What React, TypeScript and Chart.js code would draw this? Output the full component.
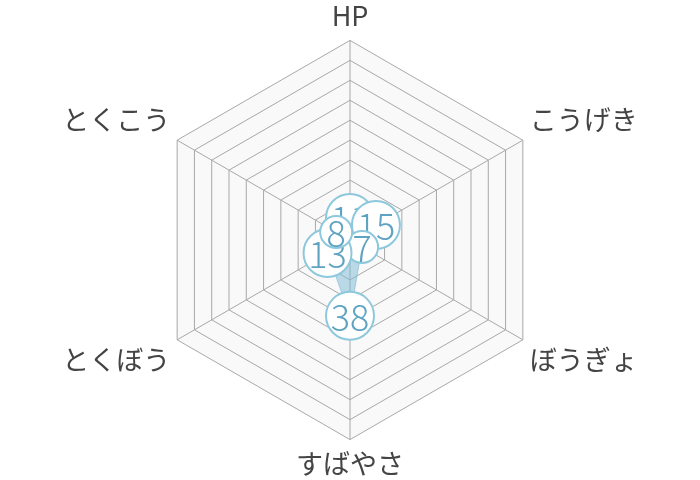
import { useEffect, useRef } from 'react';
import { Chart, registerables, type Plugin } from 'chart.js';

Chart.register(...registerables);

const labels = ['HP', 'こうげき', 'ぼうぎょ', 'すばやさ', 'とくぼう', 'とくこう'];
const stats = [11, 15, 7, 38, 13, 8];
const scaleMax = 100;
const scaleStep = 10;

const FONT = '"Noto Sans CJK JP", "Noto Sans", sans-serif';

// draws each point as a white bubble with its value, one after the other
const bubbles: Plugin<'radar'> = {
  id: 'bubbles',
  afterDatasetsDraw(chart) {
    const ctx = chart.ctx;
    const meta = chart.getDatasetMeta(0);
    const values = chart.data.datasets[0].data as number[];
    ctx.save();
    meta.data.forEach((pt, i) => {
      const v = values[i];
      const r = v >= 10 ? 24 : 16;
      ctx.beginPath();
      ctx.arc(pt.x, pt.y, r, 0, Math.PI * 2);
      ctx.fillStyle = '#ffffff';
      ctx.fill();
      ctx.lineWidth = 2;
      ctx.strokeStyle = '#8ec8dc';
      ctx.stroke();
      ctx.fillStyle = '#5fa3c2';
      ctx.font = `300 36px ${FONT}`;
      ctx.textAlign = 'center';
      ctx.textBaseline = 'middle';
      ctx.fillText(String(v), pt.x, pt.y + 1);
    });
    ctx.restore();
  },
};

export default function App() {
  const canvas = useRef<HTMLCanvasElement>(null);

  useEffect(() => {
    document.body.style.margin = '0';
    const current = canvas.current;
    if (!current) return;
    const chart = new Chart(current, {
      type: 'radar',
      data: {
        labels,
        datasets: [
          {
            data: stats,
            backgroundColor: 'rgba(120, 185, 210, 0.5)',
            borderColor: 'rgba(120, 185, 210, 0.6)',
            borderWidth: 1,
            pointRadius: 0,
            pointHoverRadius: 0,
          },
        ],
      },
      options: {
        responsive: false,
        maintainAspectRatio: false,
        animation: false,
        layout: { padding: 0 },
        plugins: {
          legend: { display: false },
          tooltip: { enabled: false },
        },
        scales: {
          r: {
            min: 0,
            max: scaleMax,
            backgroundColor: '#f9f9f9',
            ticks: { display: false, stepSize: scaleStep },
            grid: { color: '#a8a8a8', lineWidth: 1 },
            angleLines: { color: '#a8a8a8', lineWidth: 1 },
            pointLabels: {
              color: '#444444',
              padding: 8,
              font: { family: FONT, size: 27, weight: 400 },
            },
          },
        },
      },
      plugins: [bubbles],
    });
    return () => chart.destroy();
  }, []);

  return (
    <div style={{ width: 700, height: 480, background: '#fff' }}>
      <canvas ref={canvas} width={700} height={480}></canvas>
    </div>
  );
}
